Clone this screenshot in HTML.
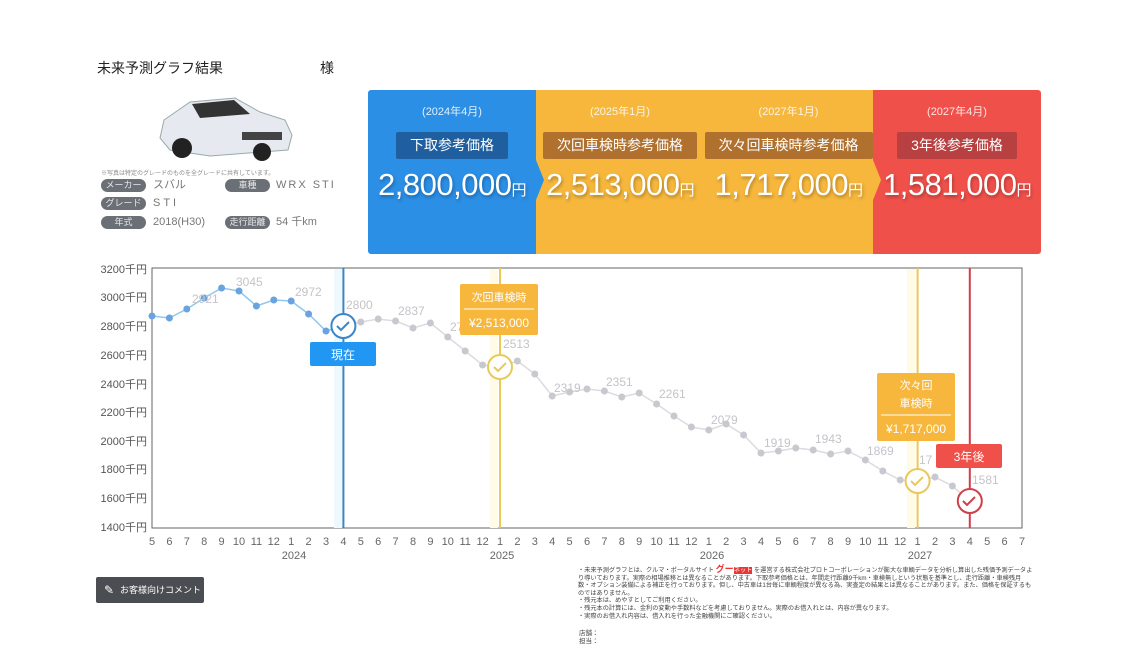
<!DOCTYPE html>
<html><head><meta charset="utf-8"><style>
body{margin:0;width:1123px;height:659px;background:#fff;font-family:"Liberation Sans","Noto Sans CJK JP",sans-serif;position:relative;overflow:hidden}
.a{position:absolute}
.tag{position:absolute;background:#6b6f76;color:#e8e8e8;font-size:9px;border-radius:7px;height:13px;line-height:13px;text-align:center;overflow:hidden;white-space:nowrap}
.tv{position:absolute;font-size:11px;color:#777;line-height:13px}
.col{position:absolute;top:90px;height:164px;color:#fff;text-align:center}
.col .d{font-size:11px;margin-top:13px;opacity:.85}
.col .lb{display:inline-block;margin-top:13px;padding:0 14px;height:27px;line-height:27px;font-size:14px;border-radius:2px}
.col .p{font-size:31px;margin-top:8px;text-shadow:1px 2px 3px rgba(0,0,0,.3);letter-spacing:-0.5px}
.col .p small{font-size:15px}
</style></head><body>
<div class="a" style="left:97px;top:58px;font-size:14px;color:#222">未来予測グラフ結果</div>
<div class="a" style="left:320px;top:58px;font-size:14px;color:#222">様</div>
<svg class="a" style="left:150px;top:90px" width="150" height="75">
<path d="M10 48 L14 30 L40 12 L85 8 L110 22 L135 30 L142 45 L138 60 L60 66 L20 60 Z" fill="#e6eaf0" stroke="#9aa" stroke-width="1"/>
<path d="M42 14 L84 10 L100 24 L50 28 Z" fill="#333"/>
<circle cx="32" cy="58" r="10" fill="#222"/><circle cx="112" cy="62" r="9" fill="#222"/>
<rect x="92" y="42" width="40" height="8" fill="#444"/>
</svg>
<div class="a" style="left:101px;top:168px;font-size:6px;color:#888">※写真は特定のグレードのものを全グレードに共有しています。</div>
<div class="tag" style="left:101px;top:179px;width:45px">メーカー</div><div class="tv" style="left:153px;top:179px">スバル</div>
<div class="tag" style="left:225px;top:179px;width:45px">車種</div><div class="tv" style="left:276px;top:179px;letter-spacing:2px">WRX STI</div>
<div class="tag" style="left:101px;top:197px;width:45px">グレード</div><div class="tv" style="left:153px;top:197px;letter-spacing:3px">STI</div>
<div class="tag" style="left:101px;top:216px;width:45px">年式</div><div class="tv" style="left:153px;top:216px">2018(H30)</div>
<div class="tag" style="left:225px;top:216px;width:45px">走行距離</div><div class="tv" style="left:276px;top:216px">54 千km</div>

<div class="col" style="left:368px;width:168px;background:#2b8fe6;border-radius:3px 0 0 3px"><div class="d">(2024年4月)</div><div class="lb" style="background:#1f5f9f">下取参考価格</div><div class="p">2,800,000<small>円</small></div></div>
<div class="col" style="left:536px;width:168px;background:#f6b73c"><div class="d">(2025年1月)</div><div class="lb" style="background:#b0712e">次回車検時参考価格</div><div class="p">2,513,000<small>円</small></div></div>
<div class="col" style="left:704px;width:169px;background:#f6b73c"><div class="d">(2027年1月)</div><div class="lb" style="background:#b0712e">次々回車検時参考価格</div><div class="p">1,717,000<small>円</small></div></div>
<div class="col" style="left:873px;width:168px;background:#f0504a;border-radius:0 3px 3px 0"><div class="d">(2027年4月)</div><div class="lb" style="background:#b84040">3年後参考価格</div><div class="p">1,581,000<small>円</small></div></div>
<svg class="a" style="left:536px;top:160px" width="10" height="40"><path d="M0 0 L8 20 L0 40Z" fill="#2b8fe6"/></svg>
<svg class="a" style="left:873px;top:160px" width="10" height="40"><path d="M0 0 L8 20 L0 40Z" fill="#f6b73c"/></svg>

<svg class="a" style="left:0;top:0" width="1123" height="659" font-family="Liberation Sans,Noto Sans CJK JP,sans-serif">
<rect x="152" y="268" width="870" height="260" fill="none" stroke="#666" stroke-width="1"/>
<rect x="334" y="269" width="8" height="259" fill="#eef8ff"/>
<rect x="490" y="269" width="8" height="259" fill="#fffbe6"/>
<rect x="907" y="269" width="8" height="259" fill="#fffbe6"/>
<g font-size="11" fill="#555" text-anchor="end">
<text x="147" y="273">3200千円</text><text x="147" y="301">3000千円</text><text x="147" y="330">2800千円</text><text x="147" y="359">2600千円</text><text x="147" y="388">2400千円</text><text x="147" y="416">2200千円</text><text x="147" y="445">2000千円</text><text x="147" y="473">1800千円</text><text x="147" y="502">1600千円</text><text x="147" y="531">1400千円</text>
</g>
<line x1="343.4" y1="268" x2="343.4" y2="528" stroke="#3a86c6" stroke-width="2"/>
<line x1="500" y1="268" x2="500" y2="528" stroke="#e8c95a" stroke-width="2"/>
<line x1="917.6" y1="268" x2="917.6" y2="528" stroke="#e8c95a" stroke-width="2"/>
<line x1="969.8" y1="268" x2="969.8" y2="528" stroke="#d0404a" stroke-width="2"/>
<polyline fill="none" stroke="#8ec8f0" stroke-width="1.5" points="152,316 169.4,318 186.8,309 204.2,298 221.6,288 239,291 256.4,306 273.8,300 291.2,301 308.6,314 326,331 343.4,326"/>
<g fill="#6aa3e0"><circle cx="152" cy="316" r="3.5"/><circle cx="169.4" cy="318" r="3.5"/><circle cx="186.8" cy="309" r="3.5"/><circle cx="204.2" cy="298" r="3.5"/><circle cx="221.6" cy="288" r="3.5"/><circle cx="239" cy="291" r="3.5"/><circle cx="256.4" cy="306" r="3.5"/><circle cx="273.8" cy="300" r="3.5"/><circle cx="291.2" cy="301" r="3.5"/><circle cx="308.6" cy="314" r="3.5"/><circle cx="326" cy="331" r="3.5"/></g>
<polyline fill="none" stroke="#dcdce0" stroke-width="1.5" points="343.4,326 360.8,322 378.2,319 395.6,321 413,328 430.4,323 447.8,337 465.2,351 482.6,365 500,367 517.4,361 534.8,374 552.2,396 569.6,392 587,389 604.4,391 621.8,397 639.2,393 656.6,404 674,416 691.4,427 708.8,430 726.2,424 743.6,435 761,453 778.4,451 795.8,448 813.2,450 830.6,454 848,451 865.4,460 882.8,471 900.2,480 917.6,481 935,477 952.4,486 969.8,501"/>
<g fill="#c8c8cf"><circle cx="360.8" cy="322" r="3.5"/><circle cx="378.2" cy="319" r="3.5"/><circle cx="395.6" cy="321" r="3.5"/><circle cx="413" cy="328" r="3.5"/><circle cx="430.4" cy="323" r="3.5"/><circle cx="447.8" cy="337" r="3.5"/><circle cx="465.2" cy="351" r="3.5"/><circle cx="482.6" cy="365" r="3.5"/><circle cx="517.4" cy="361" r="3.5"/><circle cx="534.8" cy="374" r="3.5"/><circle cx="552.2" cy="396" r="3.5"/><circle cx="569.6" cy="392" r="3.5"/><circle cx="587" cy="389" r="3.5"/><circle cx="604.4" cy="391" r="3.5"/><circle cx="621.8" cy="397" r="3.5"/><circle cx="639.2" cy="393" r="3.5"/><circle cx="656.6" cy="404" r="3.5"/><circle cx="674" cy="416" r="3.5"/><circle cx="691.4" cy="427" r="3.5"/><circle cx="708.8" cy="430" r="3.5"/><circle cx="726.2" cy="424" r="3.5"/><circle cx="743.6" cy="435" r="3.5"/><circle cx="761" cy="453" r="3.5"/><circle cx="778.4" cy="451" r="3.5"/><circle cx="795.8" cy="448" r="3.5"/><circle cx="813.2" cy="450" r="3.5"/><circle cx="830.6" cy="454" r="3.5"/><circle cx="848" cy="451" r="3.5"/><circle cx="865.4" cy="460" r="3.5"/><circle cx="882.8" cy="471" r="3.5"/><circle cx="900.2" cy="480" r="3.5"/><circle cx="935" cy="477" r="3.5"/><circle cx="952.4" cy="486" r="3.5"/></g>
<g font-size="12" fill="#c4c4ca">
<text x="192" y="303">2921</text><text x="236" y="286">3045</text><text x="295" y="296">2972</text><text x="346" y="309">2800</text><text x="398" y="315">2837</text><text x="450" y="331">27</text><text x="503" y="348">2513</text><text x="554" y="392">2319</text><text x="606" y="386">2351</text><text x="659" y="398">2261</text><text x="711" y="424">2079</text><text x="764" y="447">1919</text><text x="815" y="443">1943</text><text x="867" y="455">1869</text><text x="919" y="464">17</text><text x="972" y="484">1581</text>
</g>
<circle cx="343.4" cy="326" r="12" fill="#fff" stroke="#3a86c6" stroke-width="2"/><path d="M337 326 l4 4 l8 -8" stroke="#3a86c6" stroke-width="2" fill="none"/>
<circle cx="500" cy="367" r="12" fill="#fff" stroke="#e8c95a" stroke-width="2"/><path d="M494 367 l4 4 l8 -8" stroke="#e8c95a" stroke-width="2" fill="none"/>
<circle cx="917.6" cy="481" r="12" fill="#fff" stroke="#e8c95a" stroke-width="2"/><path d="M911 481 l4 4 l8 -8" stroke="#e8c95a" stroke-width="2" fill="none"/>
<circle cx="969.8" cy="501" r="12" fill="#fff" stroke="#d0404a" stroke-width="2"/><path d="M963 501 l4 4 l8 -8" stroke="#d0404a" stroke-width="2" fill="none"/>
<rect x="310" y="342" width="66" height="24" rx="2" fill="#2196f3"/><text x="343" y="359" font-size="12" fill="#fff" text-anchor="middle">現在</text>
<rect x="460" y="284" width="78" height="51" rx="2" fill="#f6b73c"/><text x="499" y="301" font-size="11" fill="#fff" text-anchor="middle">次回車検時</text><line x1="464" y1="309" x2="534" y2="309" stroke="#fff"/><text x="499" y="327" font-size="12" fill="#fff" text-anchor="middle">¥2,513,000</text>
<rect x="877" y="373" width="78" height="68" rx="2" fill="#f6b73c"/><text x="916" y="389" font-size="11" fill="#fff" text-anchor="middle">次々回</text><text x="916" y="407" font-size="11" fill="#fff" text-anchor="middle">車検時</text><line x1="881" y1="415" x2="951" y2="415" stroke="#fff"/><text x="916" y="433" font-size="12" fill="#fff" text-anchor="middle">¥1,717,000</text>
<rect x="936" y="444" width="66" height="24" rx="2" fill="#f0504a"/><text x="969" y="461" font-size="12" fill="#fff" text-anchor="middle">3年後</text>
<g font-size="11" fill="#666" text-anchor="middle">
<text x="152" y="545">5</text><text x="169.4" y="545">6</text><text x="186.8" y="545">7</text><text x="204.2" y="545">8</text><text x="221.6" y="545">9</text><text x="239" y="545">10</text><text x="256.4" y="545">11</text><text x="273.8" y="545">12</text><text x="291.2" y="545">1</text><text x="308.6" y="545">2</text><text x="326" y="545">3</text><text x="343.4" y="545">4</text><text x="360.8" y="545">5</text><text x="378.2" y="545">6</text><text x="395.6" y="545">7</text><text x="413" y="545">8</text><text x="430.4" y="545">9</text><text x="447.8" y="545">10</text><text x="465.2" y="545">11</text><text x="482.6" y="545">12</text><text x="500" y="545">1</text><text x="517.4" y="545">2</text><text x="534.8" y="545">3</text><text x="552.2" y="545">4</text><text x="569.6" y="545">5</text><text x="587" y="545">6</text><text x="604.4" y="545">7</text><text x="621.8" y="545">8</text><text x="639.2" y="545">9</text><text x="656.6" y="545">10</text><text x="674" y="545">11</text><text x="691.4" y="545">12</text><text x="708.8" y="545">1</text><text x="726.2" y="545">2</text><text x="743.6" y="545">3</text><text x="761" y="545">4</text><text x="778.4" y="545">5</text><text x="795.8" y="545">6</text><text x="813.2" y="545">7</text><text x="830.6" y="545">8</text><text x="848" y="545">9</text><text x="865.4" y="545">10</text><text x="882.8" y="545">11</text><text x="900.2" y="545">12</text><text x="917.6" y="545">1</text><text x="935" y="545">2</text><text x="952.4" y="545">3</text><text x="969.8" y="545">4</text><text x="987.2" y="545">5</text><text x="1004.6" y="545">6</text><text x="1022" y="545">7</text>
<text x="294" y="559">2024</text><text x="502" y="559">2025</text><text x="712" y="559">2026</text><text x="920" y="559">2027</text>
</g>
</svg>

<div class="a" style="left:96px;top:577px;width:108px;height:26px;background:#4a4d52;border-radius:2px;color:#fff;font-size:9px;line-height:26px;text-indent:24px">お客様向けコメント</div>
<div class="a" style="left:104px;top:583px;color:#fff;font-size:12px">✎</div>
<div class="a" style="left:578px;top:566px;width:455px;font-size:6.2px;line-height:7.6px;color:#444">・未来予測グラフとは、クルマ・ポータルサイト <b style="color:#e33;font-size:9px">グー</b><span style="background:#e33;color:#fff">ネット</span> を運営する株式会社プロトコーポレーションが膨大な車輌データを分析し算出した残価予測データより導いております。実際の相場推移とは異なることがあります。下取参考価格とは、年間走行距離9千km・車検無しという状態を基準とし、走行距離・車検残月数・オプション装備による補正を行っております。但し、中古車は1台毎に車輌程度が異なる為、実査定の結果とは異なることがあります。また、価格を保証するものではありません。<br>・残元本は、めやすとしてご利用ください。<br>・残元本の計算には、金利の変動や手数料などを考慮しておりません。実際のお借入れとは、内容が異なります。<br>・実際のお借入れ内容は、借入れを行った金融機関にご確認ください。</div>
<div class="a" style="left:579px;top:630px;font-size:6.5px;line-height:8px;color:#444">店舗：<br>担当：</div>
</body></html>
